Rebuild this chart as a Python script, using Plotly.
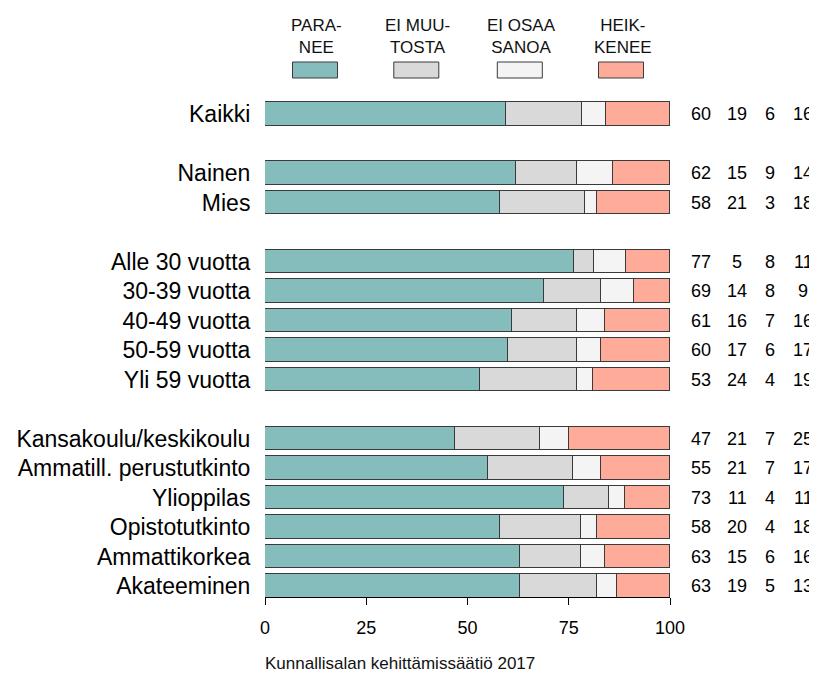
import plotly.graph_objects as go

# ---- data ----
groups = [
    ["Kaikki"],
    ["Nainen", "Mies"],
    ["Alle 30 vuotta", "30-39 vuotta", "40-49 vuotta", "50-59 vuotta", "Yli 59 vuotta"],
    ["Kansakoulu/keskikoulu", "Ammatill. perustutkinto", "Ylioppilas",
     "Opistotutkinto", "Ammattikorkea", "Akateeminen"],
]
series_names = ["PARA-<br>NEE", "EI MUU-<br>TOSTA", "EI OSAA<br>SANOA", "HEIK-<br>KENEE"]
paranee =   [60, 62, 58, 77, 69, 61, 60, 53, 47, 55, 73, 58, 63, 63]
ei_muuta =  [19, 15, 21,  5, 14, 16, 17, 24, 21, 21, 11, 20, 15, 19]
ei_osaa =   [ 6,  9,  3,  8,  8,  7,  6,  4,  7,  7,  4,  4,  6,  5]
heikkenee = [16, 14, 18, 11,  9, 16, 17, 19, 25, 17, 11, 18, 16, 13]
x_ticks = [0, 25, 50, 75, 100]
source_text = "Kunnallisalan kehittämissäätiö 2017"

# ---- styles ----
colors = ["#85BCBC", "#D9D9D9", "#F4F4F4", "#FFAB9A"]
outline = "#3a3a3a"
FONT = "Liberation Sans, Arial, sans-serif"

OFF = 8  # page body margin
W, H = 817 - OFF, 674 - OFF
PL, PR, PT, PB = 265 - OFF, 670 - OFF, 100 - OFF, 597 - OFF  # plot area (figure px)

# ---- row positions (with a blank row between groups) ----
labels, ypos = [], []
r = 0
for gi, g in enumerate(groups):
    if gi > 0:
        r += 1
    for lab in g:
        labels.append(lab)
        ypos.append(r)
        r += 1

series = [paranee, ei_muuta, ei_osaa, heikkenee]
totals = [sum(s[i] for s in series) for i in range(len(labels))]

fig = go.Figure()
for name, vals, col in zip(series_names, series, colors):
    fig.add_trace(go.Bar(
        y=ypos, x=[v / t * 100 for v, t in zip(vals, totals)],
        orientation="h", name=name, width=0.81,
        marker=dict(color=col, line=dict(color=outline, width=1)),
        showlegend=False, hoverinfo="skip",
    ))

row_h = 29.5
y_top = -(114 - 100) / row_h
y_bot = ypos[-1] + (597 - 586) / row_h


def xp(page_px):
    return (page_px - OFF - PL) / (PR - PL)


def yp(page_py):
    return (PB - (page_py - OFF)) / (PB - PT)


annotations = []
shapes = []
# value columns
col_px = [701, 737, 770, 803]
for ci, s in enumerate(series):
    for i, v in enumerate(s):
        annotations.append(dict(
            x=xp(col_px[ci]), xref="paper", y=ypos[i], yref="y",
            text=str(v), showarrow=False, xanchor="center", yanchor="middle",
            font=dict(family=FONT, size=18, color="black"),
        ))

# custom legend
leg_px = [315, 416.3, 519.8, 621]
for cx, name, col in zip(leg_px, series_names, colors):
    shapes.append(dict(
        type="rect", xref="paper", yref="paper",
        x0=xp(cx - 22.5), x1=xp(cx + 22.5), y0=yp(78), y1=yp(62),
        fillcolor=col, line=dict(color=outline, width=1),
    ))
    annotations.append(dict(
        x=xp(cx + 1.5), xref="paper", y=yp(36.5), yref="paper",
        text=name, showarrow=False, xanchor="center", yanchor="middle",
        font=dict(family=FONT, size=17, color="#111"),
    ))

# source caption
annotations.append(dict(
    x=xp(400), xref="paper", y=yp(663), yref="paper",
    text=source_text, showarrow=False, xanchor="center", yanchor="middle",
    font=dict(family=FONT, size=17, color="#111"),
))

fig.update_layout(
    width=W, height=H,
    margin=dict(l=PL, r=W - PR, t=PT, b=H - PB, pad=0, autoexpand=False),
    barmode="stack", bargap=0,
    paper_bgcolor="white", plot_bgcolor="white",
    font=dict(family=FONT, color="black"),
    annotations=annotations, shapes=shapes,
    xaxis=dict(
        range=[0, 100], tickvals=x_ticks, ticktext=[str(t) for t in x_ticks],
        ticks="outside", ticklen=7, tickcolor="black", tickwidth=1,
        showline=True, linecolor="black", linewidth=1, automargin=False,
        showgrid=False, zeroline=False, ticklabelstandoff=7,
        tickfont=dict(family=FONT, size=18, color="black"),
        fixedrange=True,
    ),
    yaxis=dict(
        range=[y_bot, y_top], tickvals=ypos, ticktext=labels,
        ticks="outside", ticklen=9, tickcolor="rgba(0,0,0,0)",
        showline=False, showgrid=False, zeroline=False, automargin=False,
        tickfont=dict(family=FONT, size=23, color="black"),
        fixedrange=True,
    ),
)

fig.write_html("out.html")
